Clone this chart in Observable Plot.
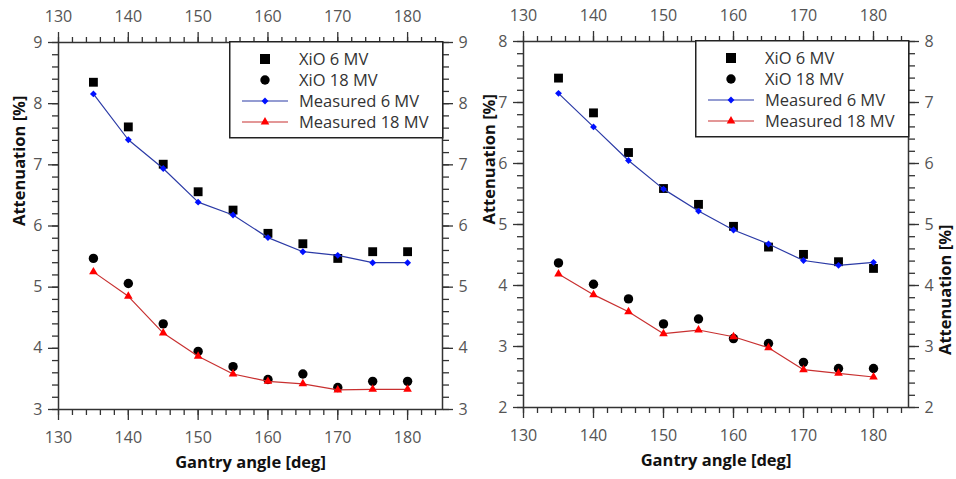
<!DOCTYPE html>
<html>
<head>
<meta charset="utf-8">
<script src="https://cdn.jsdelivr.net/npm/d3@7"></script>
<script src="https://cdn.jsdelivr.net/npm/@observablehq/plot@0.6"></script>
<style>
  html, body { margin: 0; padding: 0; background: #fff; }
  #wrap { display: flex; width: 956px; height: 479px; overflow: hidden; }
  .panel { position: relative; width: 478px; height: 479px; overflow: hidden; }
  .panel svg { overflow: hidden; }
  .legend { position: absolute; }
</style>
</head>
<body>
<div id="wrap">
  <div class="panel" id="left"></div>
  <div class="panel" id="right"></div>
</div>
<script>
// ---- data ----
const angles = [135, 140, 145, 150, 155, 160, 165, 170, 175, 180];

// left panel
const xio6L  = [8.35, 7.62, 7.01, 6.56, 6.26, 5.88, 5.71, 5.47, 5.58, 5.58];
const meas6L = [8.16, 7.41, 6.94, 6.39, 6.18, 5.81, 5.58, 5.52, 5.40, 5.40];
const xio18L = [5.47, 5.06, 4.40, 3.95, 3.70, 3.49, 3.58, 3.36, 3.46, 3.46];
const meas18L= [5.25, 4.85, 4.25, 3.87, 3.58, 3.46, 3.42, 3.32, 3.33, 3.33];

// right panel
const xio6R  = [7.40, 6.83, 6.18, 5.59, 5.33, 4.97, 4.63, 4.51, 4.39, 4.28];
const meas6R = [7.15, 6.60, 6.05, 5.58, 5.22, 4.91, 4.68, 4.41, 4.33, 4.38];
const xio18R = [4.37, 4.02, 3.78, 3.37, 3.45, 3.13, 3.05, 2.74, 2.64, 2.64];
const meas18R= [4.19, 3.85, 3.57, 3.21, 3.27, 3.16, 2.98, 2.62, 2.56, 2.50];

const xTicks = [130, 140, 150, 160, 170, 180];
const seriesNames = ["XiO 6 MV", "XiO 18 MV", "Measured 6 MV", "Measured 18 MV"];
const xTitle = "Gantry angle [deg]";
const yTitle = "Attenuation [%]";

// ---- styles ----
const FONT = "'Open Sans', 'DejaVu Sans', sans-serif";
const TICK_STROKE = "#333";
const LABEL_FILL = "#555";
const BLUE_LINE = "#2b3aa6", BLUE_DOT = "#0010ff";
const RED_LINE = "#c83030", RED_DOT = "#ff0000";

function rows(ys) { return angles.map((a, i) => ({x: a, y: ys[i]})); }

function makePanel({xio6, meas6, xio18, meas18, yMin, yMax, margins, leftTitle, rightTitle}) {
  const yMajor = d3.range(yMin, yMax + 1);
  const yMinor = d3.range(yMin * 5, yMax * 5 + 1).map(d => d / 5);
  const xMinor = d3.range(130, 185, 2);
  const axisCommon = {label: null, stroke: TICK_STROKE, fill: LABEL_FILL, strokeWidth: 1.3, fontSize: 16, tickFormat: "d"};
  const minorCommon = {label: null, stroke: TICK_STROKE, fill: "none", strokeWidth: 1.3, tickFormat: () => ""};
  const titleStyle = {text: d => d, fontWeight: "bold", fontSize: 16.5, fill: "#111"};
  return Plot.plot({
    width: 478,
    height: 479,
    ...margins,
    style: {fontFamily: FONT, fontSize: "16px", background: "white"},
    x: {domain: [130, 185]},
    y: {domain: [yMin, yMax]},
    marks: [
      Plot.axisX({...axisCommon, anchor: "bottom", ticks: xTicks, tickSize: 11, tickPadding: 11}),
      Plot.axisX({...axisCommon, anchor: "top", ticks: xTicks, tickSize: 11, tickPadding: 10}),
      Plot.axisX({...minorCommon, anchor: "bottom", ticks: xMinor, tickSize: 6}),
      Plot.axisX({...minorCommon, anchor: "top", ticks: xMinor, tickSize: 6}),
      Plot.axisY({...axisCommon, anchor: "left", ticks: yMajor, tickSize: 10, tickPadding: 6}),
      Plot.axisY({...axisCommon, anchor: "right", ticks: yMajor, tickSize: 10, tickPadding: 6}),
      Plot.axisY({...minorCommon, anchor: "left", ticks: yMinor, tickSize: 6}),
      Plot.axisY({...minorCommon, anchor: "right", ticks: yMinor, tickSize: 6}),
      Plot.frame({stroke: TICK_STROKE, strokeWidth: 1.5}),
      Plot.text([xTitle], {...titleStyle, frameAnchor: "bottom", dy: 53, lineAnchor: "middle"}),
      leftTitle ? Plot.text([yTitle], {...titleStyle, frameAnchor: "left", dx: leftTitle, rotate: -90}) : null,
      rightTitle ? Plot.text([yTitle], {...titleStyle, frameAnchor: "right", dx: rightTitle, rotate: -90}) : null,
      Plot.dot(rows(xio6), {x: "x", y: "y", symbol: "square", r: 5, fill: "#000", stroke: "none"}),
      Plot.dot(rows(xio18), {x: "x", y: "y", symbol: "circle", r: 4.7, fill: "#000", stroke: "none"}),
      Plot.line(rows(meas6), {x: "x", y: "y", stroke: BLUE_LINE, strokeWidth: 1.2}),
      Plot.dot(rows(meas6), {x: "x", y: "y", symbol: "diamond2", r: 3.1, fill: BLUE_DOT, stroke: "none"}),
      Plot.line(rows(meas18), {x: "x", y: "y", stroke: RED_LINE, strokeWidth: 1.2}),
      Plot.dot(rows(meas18), {x: "x", y: "y", symbol: "triangle", r: 3.2, fill: RED_DOT, stroke: "none"})
    ]
  });
}

function makeLegend(left, top) {
  const w = 213, h = 96;
  const svg = d3.create("svg").attr("class", "legend").attr("width", w + 2).attr("height", h + 2)
    .style("left", left + "px").style("top", top + "px").style("position", "absolute")
    .style("font-family", FONT);
  svg.append("rect").attr("x", 0.75).attr("y", 0.75).attr("width", w).attr("height", h)
    .attr("fill", "white").attr("stroke", "#222").attr("stroke-width", 1.5);
  const rowY = [18, 39, 60, 81];
  const sx = 36;
  const sym = d3.symbol();
  seriesNames.forEach((name, i) => {
    const g = svg.append("g").attr("transform", `translate(0,${rowY[i]})`);
    if (i === 0) g.append("path").attr("d", sym.type(d3.symbolSquare).size(100)()).attr("transform", `translate(${sx},0)`).attr("fill", "#000");
    if (i === 1) g.append("path").attr("d", sym.type(d3.symbolCircle).size(69)()).attr("transform", `translate(${sx},0)`).attr("fill", "#000");
    if (i === 2) {
      g.append("line").attr("x1", 13).attr("x2", 59).attr("stroke", BLUE_LINE).attr("stroke-width", 1.2);
      g.append("path").attr("d", sym.type(d3.symbolDiamond2).size(30)()).attr("transform", `translate(${sx},0)`).attr("fill", BLUE_DOT);
    }
    if (i === 3) {
      g.append("line").attr("x1", 13).attr("x2", 59).attr("stroke", RED_LINE).attr("stroke-width", 1.2);
      g.append("path").attr("d", sym.type(d3.symbolTriangle).size(32)()).attr("transform", `translate(${sx},0)`).attr("fill", RED_DOT);
    }
    g.append("text").attr("x", 70).attr("y", 0).attr("dy", "0.35em").attr("font-size", 16.5).attr("fill", "#333").text(name);
  });
  return svg.node();
}

const leftEl = document.getElementById("left");
leftEl.append(makePanel({xio6: xio6L, meas6: meas6L, xio18: xio18L, meas18: meas18L, yMin: 3, yMax: 9,
  margins: {marginLeft: 58, marginRight: 36, marginTop: 42, marginBottom: 70}, leftTitle: -39, rightTitle: null}));
leftEl.append(makeLegend(229, 41));

const rightEl = document.getElementById("right");
rightEl.append(makePanel({xio6: xio6R, meas6: meas6R, xio18: xio18R, meas18: meas18R, yMin: 2, yMax: 8,
  margins: {marginLeft: 45, marginRight: 48, marginTop: 41, marginBottom: 72}, leftTitle: -34, rightTitle: 37}));
rightEl.append(makeLegend(217, 40));
</script>
</body>
</html>
